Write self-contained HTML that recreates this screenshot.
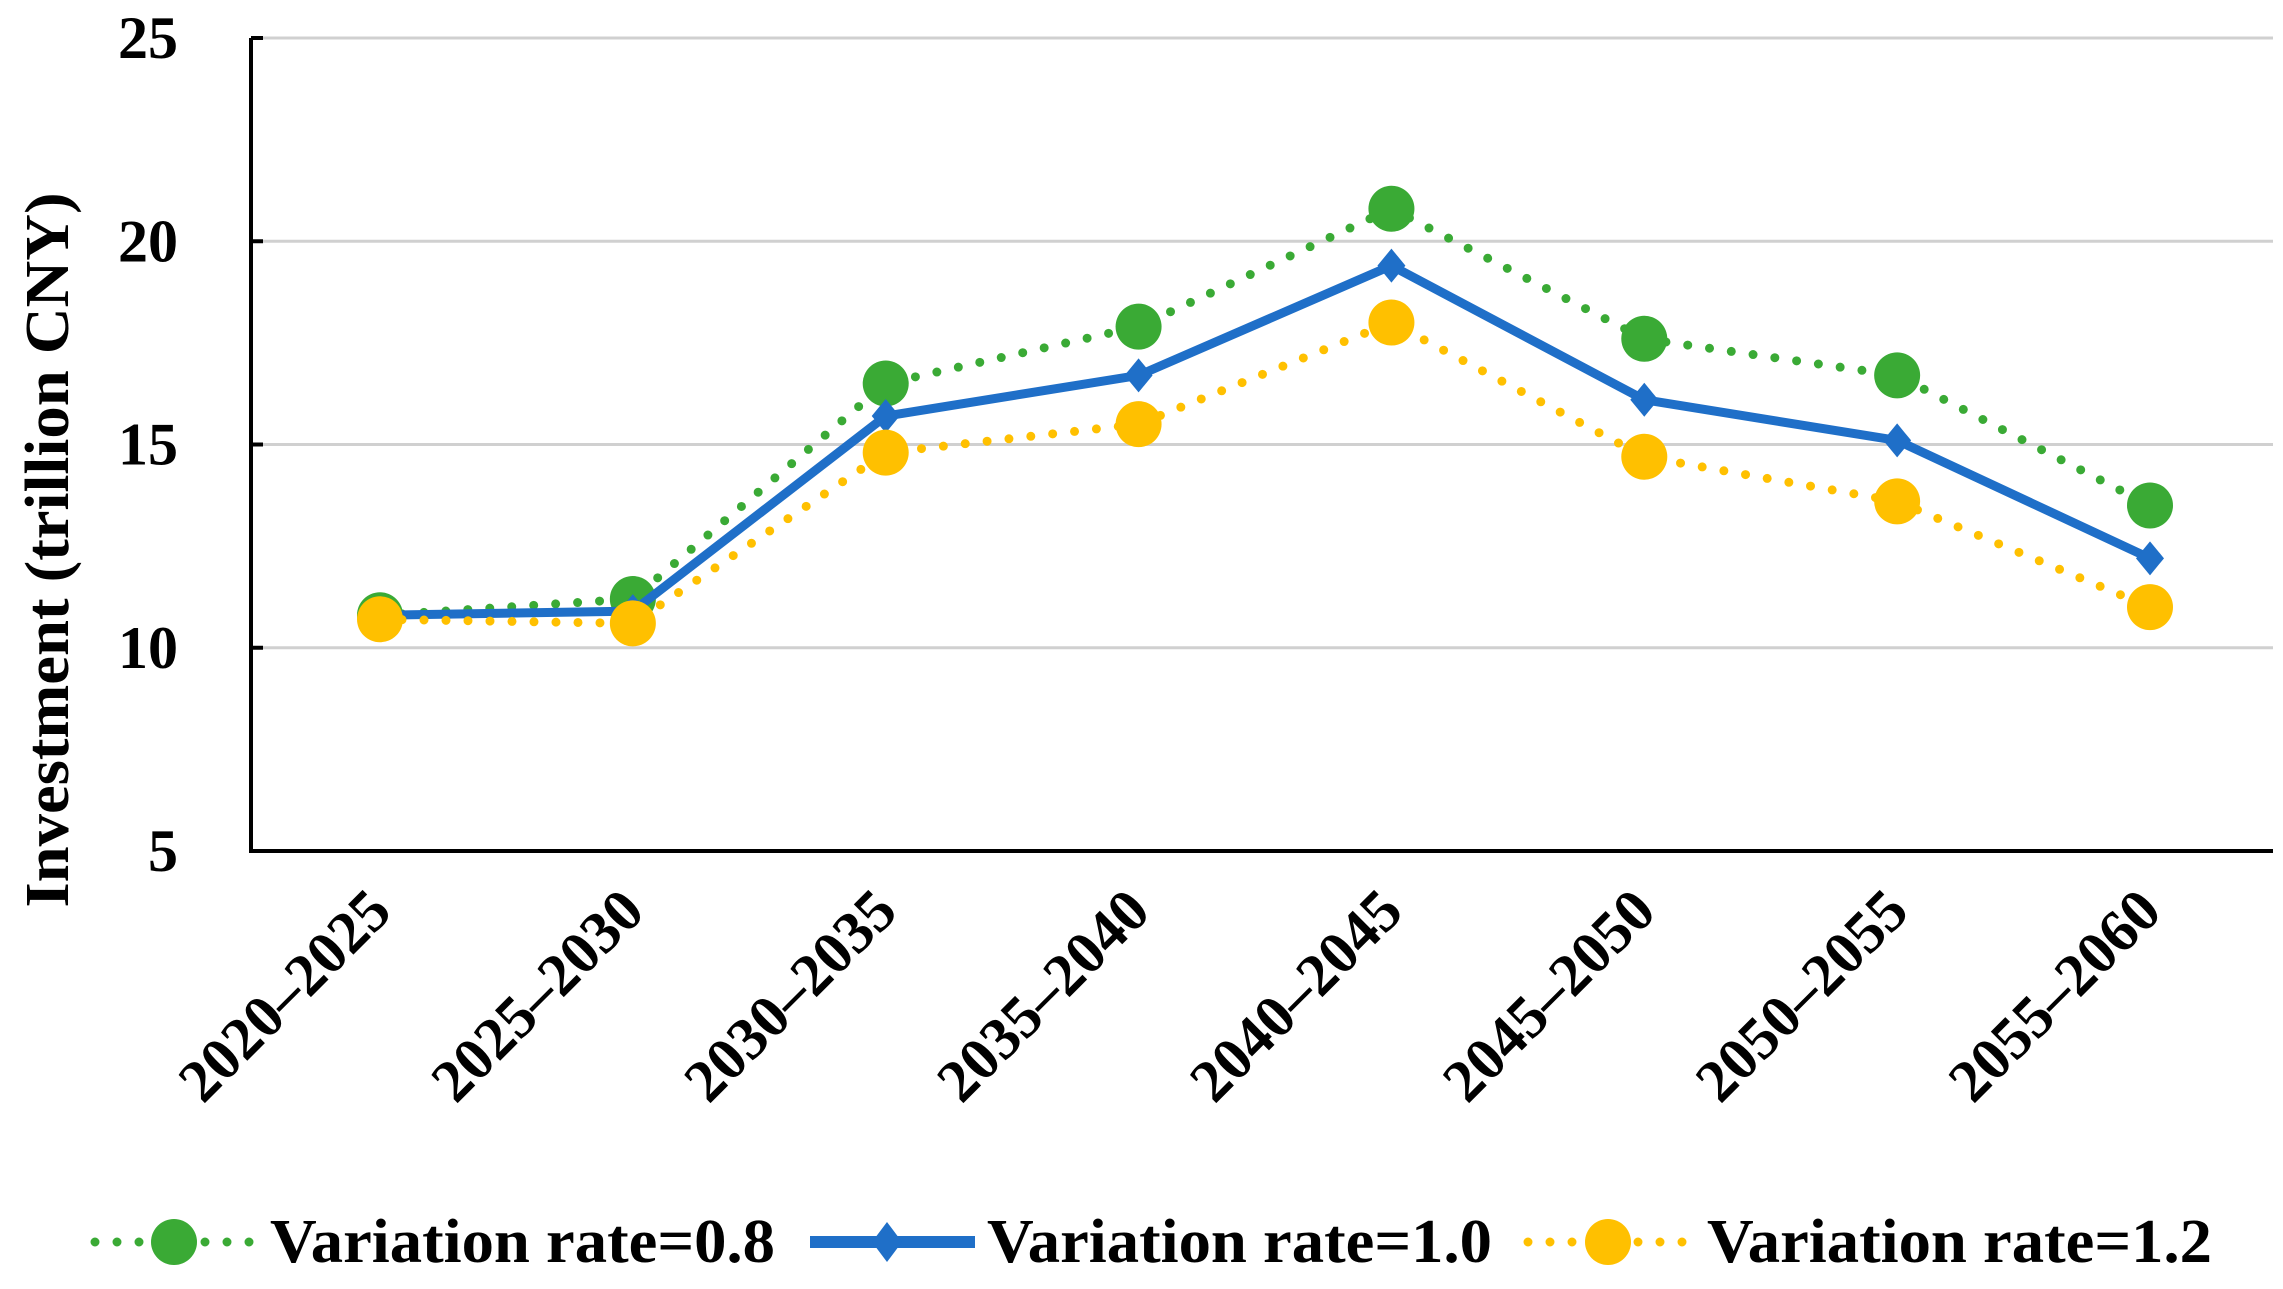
<!DOCTYPE html>
<html><head><meta charset="utf-8"><style>
html,body{margin:0;padding:0;background:#fff}
svg{display:block}
text{font-family:"Liberation Serif",serif;font-weight:bold;fill:#000}
</style></head><body>
<svg id="chart" width="2283" height="1289" viewBox="0 0 2283 1289" xmlns="http://www.w3.org/2000/svg">
<g id="grid"></g>
<g id="axes"></g>
<g id="series"></g>
<text transform="translate(68,550) rotate(-90)" text-anchor="middle" font-size="62" textLength="715" lengthAdjust="spacingAndGlyphs">Investment (trillion CNY)</text>
<g>
 <g>
  <line x1="95" y1="1242" x2="258" y2="1242" stroke="#3aaa35" stroke-width="9" stroke-linecap="round" stroke-dasharray="0 22"/>
  <circle cx="174" cy="1242" r="23" fill="#3aaa35"/>
  <text x="270" y="1262" font-size="62" textLength="505" lengthAdjust="spacingAndGlyphs">Variation rate=0.8</text>
 </g>
 <g>
  <line x1="810" y1="1242" x2="975" y2="1242" stroke="#1f6fc8" stroke-width="12"/>
  <path d="M887 1222 L902 1242 L887 1262 L872 1242 Z" fill="#1f6fc8"/>
  <text x="987" y="1262" font-size="62" textLength="505" lengthAdjust="spacingAndGlyphs">Variation rate=1.0</text>
 </g>
 <g>
  <line x1="1528" y1="1242" x2="1688" y2="1242" stroke="#ffc000" stroke-width="9" stroke-linecap="round" stroke-dasharray="0 22"/>
  <circle cx="1608" cy="1242" r="23" fill="#ffc000"/>
  <text x="1707" y="1262" font-size="62" textLength="505" lengthAdjust="spacingAndGlyphs">Variation rate=1.2</text>
 </g>
</g>
</svg>
<script>
const categories = ["2020–2025","2025–2030","2030–2035","2035–2040","2040–2045","2045–2050","2050–2055","2055–2060"];
const rate08 = [10.8, 11.2, 16.5, 17.9, 20.8, 17.6, 16.7, 13.5];
const rate10 = [10.8, 10.9, 15.7, 16.7, 19.4, 16.1, 15.1, 12.2];
const rate12 = [10.7, 10.6, 14.8, 15.5, 18.0, 14.7, 13.6, 11.0];
const yTicks = [5, 10, 15, 20, 25];

const NS = "http://www.w3.org/2000/svg";
const L = 251, R = 2273, T = 38, B = 851, yMin = 5, yMax = 25;
const x0 = 380, step = (2150 - 380) / 7;
function xs(i){ return x0 + i * step; }
function ys(v){ return B - (v - yMin) / (yMax - yMin) * (B - T); }
function mk(tag, attrs, parent){ const e = document.createElementNS(NS, tag); for (const k in attrs) e.setAttribute(k, attrs[k]); parent.appendChild(e); return e; }

const grid = document.getElementById('grid'), axes = document.getElementById('axes'), series = document.getElementById('series');
yTicks.forEach(t => {
  const y = ys(t);
  if (t !== yMin) {
    const g = mk('line', {x1: L, x2: R, y1: y, y2: y, stroke: '#d0d0d0', 'stroke-width': 3}, grid);
    
    
  }
  const tk = mk('line', {x1: L, x2: L + 12, y1: y, y2: y, stroke: '#000', 'stroke-width': 4}, axes);
  
  
  const lb = mk('text', {x: 178, y: y + 20, 'text-anchor': 'end', 'font-size': 60}, axes);
  lb.textContent = t;
  
  
});
const ya = mk('line', {x1: L, x2: L, y1: T, y2: B + 2, stroke: '#000', 'stroke-width': 4}, axes);


const xa = mk('line', {x1: L - 2, x2: R, y1: B, y2: B, stroke: '#000', 'stroke-width': 4}, axes);


categories.forEach((c, i) => {
  const x = xs(i) + 14, y = 914;
  const t = mk('text', {x: x, y: y, 'text-anchor': 'end', 'font-size': 60, transform: 'rotate(-45 ' + x + ' ' + y + ')'}, axes);
  t.textContent = c;
  
  
});

function pts(arr){ return arr.map((v, i) => xs(i) + ',' + ys(v)).join(' '); }
function drawDotted(arr, color, name){
  const g = mk('g', {}, series);
  
  
  mk('polyline', {points: pts(arr), fill: 'none', stroke: color, 'stroke-width': 9, 'stroke-linecap': 'round', 'stroke-dasharray': '0 22'}, g);
  arr.forEach((v, i) => {
    const c = mk('circle', {cx: xs(i), cy: ys(v), r: 23, fill: color}, g);
    
    
  });
}
drawDotted(rate08, '#3aaa35', 'series-rate-0.8');
const gb = mk('g', {}, series);


mk('polyline', {points: pts(rate10), fill: 'none', stroke: '#1f6fc8', 'stroke-width': 9, 'stroke-linejoin': 'round'}, gb);
rate10.forEach((v, i) => {
  const x = xs(i), y = ys(v);
  const d = mk('path', {d: `M${x} ${y-17} L${x+14} ${y} L${x} ${y+17} L${x-14} ${y} Z`, fill: '#1f6fc8'}, gb);
  
  
});
drawDotted(rate12, '#ffc000', 'series-rate-1.2');
</script>
</body></html>
